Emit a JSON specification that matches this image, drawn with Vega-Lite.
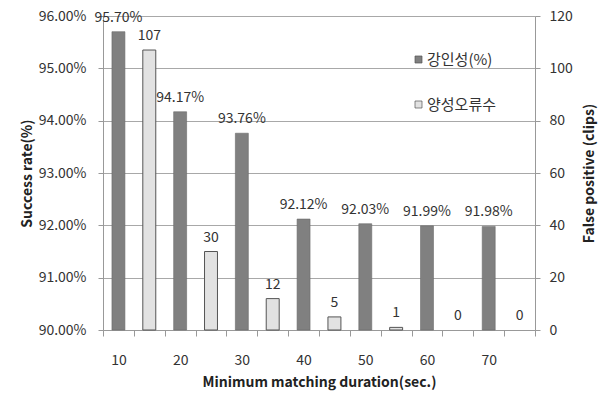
{
  "$schema": "https://vega.github.io/schema/vega-lite/v6.json",
  "width": 432,
  "height": 314,
  "autosize": "none",
  "padding": {"left": 103, "top": 16, "right": 64, "bottom": 66},
  "background": "white",
  "config": {
    "font": "Noto Sans CJK KR",
    "view": {"stroke": null}
  },
  "data": {
    "values": [
      {"d": 10, "series": "강인성(%)", "rate": 0.9570},
      {"d": 15, "series": "양성오류수", "fp": 107},
      {"d": 20, "series": "강인성(%)", "rate": 0.9417},
      {"d": 25, "series": "양성오류수", "fp": 30},
      {"d": 30, "series": "강인성(%)", "rate": 0.9376},
      {"d": 35, "series": "양성오류수", "fp": 12},
      {"d": 40, "series": "강인성(%)", "rate": 0.9212},
      {"d": 45, "series": "양성오류수", "fp": 5},
      {"d": 50, "series": "강인성(%)", "rate": 0.9203},
      {"d": 55, "series": "양성오류수", "fp": 1},
      {"d": 60, "series": "강인성(%)", "rate": 0.9199},
      {"d": 65, "series": "양성오류수", "fp": 0},
      {"d": 70, "series": "강인성(%)", "rate": 0.9198},
      {"d": 75, "series": "양성오류수", "fp": 0}
    ]
  },
  "encoding": {
    "x": {
      "field": "d",
      "type": "ordinal",
      "scale": {"paddingInner": 0, "paddingOuter": 0},
      "axis": {
        "title": "Minimum matching duration(sec.)",
        "labelAngle": 0,
        "tickBand": "extent",
        "labelExpr": "datum.value % 10 == 0 ? datum.label : ''",
        "labelFontSize": 14,
        "labelColor": "#333",
        "labelPadding": 17,
        "tickSize": 6,
        "tickColor": "#999",
        "domainColor": "#999",
        "grid": false,
        "titleFontSize": 14,
        "titleFontWeight": "bold",
        "titleColor": "#222",
        "titlePadding": 8
      }
    }
  },
  "layer": [
    {
      "transform": [{"filter": "datum.series == '강인성(%)'"}],
      "layer": [
        {
          "mark": {"type": "bar", "width": {"band": 0.42}, "stroke": "#6a6a6a", "strokeWidth": 0.6},
          "encoding": {
            "y": {
              "field": "rate",
              "type": "quantitative",
              "scale": {"domain": [0.9, 0.96], "zero": false},
              "axis": {
                "title": "Success rate(%)",
                "format": ".2%",
                "values": [0.90, 0.91, 0.92, 0.93, 0.94, 0.95, 0.96],
                "grid": true,
                "gridColor": "#a8a8a8",
                "domainColor": "#999",
                "tickColor": "#999",
                "tickSize": 5,
                "labelFontSize": 14,
                "labelColor": "#333",
                "labelPadding": 12,
                "titleFontSize": 14,
                "titleFontWeight": "bold",
                "titleColor": "#222",
                "titlePadding": 4
              }
            },
            "y2": {"datum": 0.9},
            "color": {
              "field": "series",
              "type": "nominal",
              "scale": {"domain": ["강인성(%)", "양성오류수"], "range": ["#808080", "#e2e2e2"]},
              "legend": {
                "orient": "none",
                "legendX": 308,
                "legendY": 36,
                "title": null,
                "padding": 0,
                "symbolType": "square",
                "symbolSize": 49,
                "symbolStrokeColor": "#555",
                "symbolStrokeWidth": 0.7,
                "labelFontSize": 15,
                "labelColor": "#333",
                "labelOffset": 1,
                "rowPadding": 29
              }
            }
          }
        },
        {
          "mark": {"type": "text", "baseline": "bottom", "dy": -7, "fontSize": 14, "color": "#333"},
          "encoding": {
            "y": {"field": "rate", "type": "quantitative"},
            "text": {"field": "rate", "type": "quantitative", "format": ".2%"}
          }
        }
      ]
    },
    {
      "transform": [{"filter": "datum.series == '양성오류수'"}],
      "layer": [
        {
          "transform": [{"filter": "datum.fp > 0"}],
          "mark": {"type": "bar", "width": {"band": 0.42}, "stroke": "#555", "strokeWidth": 1},
          "encoding": {
            "y": {
              "field": "fp",
              "type": "quantitative",
              "scale": {"domain": [0, 120]},
              "axis": {
                "orient": "right",
                "title": "False positive (clips)",
                "titleAngle": -90,
                "values": [0, 20, 40, 60, 80, 100, 120],
                "grid": false,
                "domainColor": "#999",
                "tickColor": "#999",
                "tickSize": 5,
                "labelFontSize": 14,
                "labelColor": "#333",
                "labelPadding": 9,
                "titleFontSize": 14,
                "titleFontWeight": "bold",
                "titleColor": "#222",
                "titlePadding": 24
              }
            },
            "color": {"field": "series", "type": "nominal"}
          }
        },
        {
          "mark": {"type": "text", "baseline": "bottom", "dy": -7, "fontSize": 14, "color": "#333"},
          "encoding": {
            "y": {"field": "fp", "type": "quantitative"},
            "text": {"field": "fp", "type": "quantitative"}
          }
        }
      ]
    }
  ],
  "resolve": {"scale": {"y": "independent"}}
}
